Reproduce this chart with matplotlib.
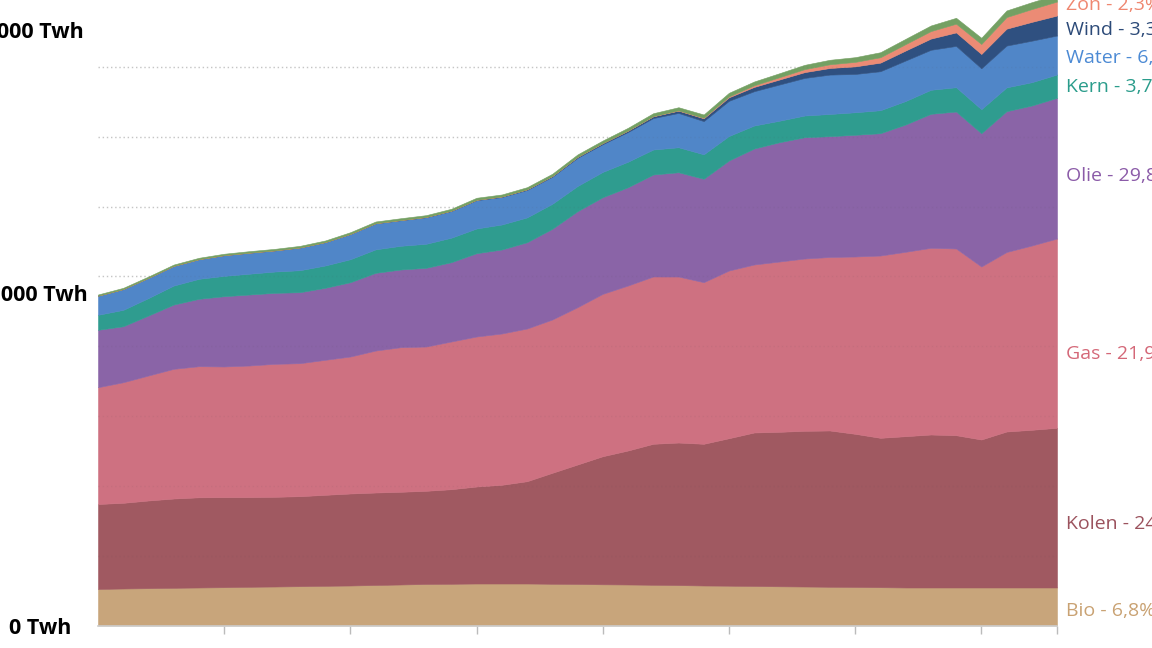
import numpy as np
import matplotlib.pyplot as plt

plt.rcParams['font.family'] = ['Open Sans', 'DejaVu Sans']

# wereld energieverbruik per bron, in TWh (1985-2023)
years = np.arange(1985, 2024)

bio = [10460, 10600, 10690, 10800, 10890, 10970, 11090, 11170, 11260, 11370,
       11460, 11600, 11750, 11890, 11950, 12030, 12030, 12030, 11950, 11890,
       11800, 11750, 11660, 11570, 11460, 11400, 11320, 11230, 11170, 11090,
       11030, 10970, 10890, 10890, 10890, 10890, 10890, 10890, 10890]
kolen = [24350, 24550, 25130, 25580, 25840, 25790, 25700, 25700, 25790, 26070,
         26360, 26500, 26560, 26700, 27100, 27790, 28280, 29310, 31800, 34240,
         36700, 38390, 40400, 40850, 40600, 42260, 43980, 44260, 44610, 44780,
         43890, 42800, 43350, 43830, 43630, 42400, 44690, 45180, 45750]
gas = [33460, 34550, 35810, 37160, 37560, 37450, 37700, 38100, 38100, 38680,
       39250, 40680, 41430, 41340, 42320, 42980, 43350, 43750, 43920, 45070,
       46530, 47270, 47930, 47560, 46300, 48050, 48130, 48790, 49360, 49710,
       50800, 52230, 52830, 53490, 53490, 49560, 51430, 52800, 54230]
olie = [16450, 16040, 17190, 18420, 19310, 20140, 20340, 20340, 20340, 20630,
        21290, 22260, 22260, 22550, 22720, 23870, 24070, 24720, 25990, 27500,
        27680, 28160, 29220, 29880, 29620, 31520, 33230, 34180, 34750, 34610,
        34870, 35040, 36470, 38390, 39250, 38190, 40340, 40110, 40310]
kern = [4300, 4700, 5010, 5440, 5730, 5820, 5960, 6100, 6300, 6390,
        6590, 6730, 6790, 6880, 7020, 7080, 7160, 7110, 7160, 7220,
        7250, 7310, 7160, 7160, 7020, 7020, 6590, 6160, 6220, 6360,
        6450, 6590, 6730, 6880, 6960, 6880, 6820, 6680, 6680]
water = [5470, 5960, 5790, 5640, 5620, 5930, 6020, 6050, 6500, 6680,
         7220, 7450, 7330, 7620, 7650, 8120, 7890, 7880, 7760, 8080,
         7950, 8510, 9010, 9830, 9510, 10080, 9830, 10370, 10770, 11290,
         10970, 11170, 11600, 11460, 11830, 11720, 11980, 11890, 11170]
wind = [0, 0, 0, 0, 0, 9, 11, 14, 17, 23,
        29, 37, 49, 63, 86, 100, 129, 172, 201, 258,
        315, 401, 516, 659, 802, 1003, 1232, 1433, 1662, 1891,
        2177, 2464, 2865, 3209, 3868, 4097, 4842, 5386, 5730]
zon = [1, 1, 1, 2, 2, 2, 2, 3, 3, 3,
       3, 4, 4, 5, 6, 6, 7, 9, 11, 14,
       14, 29, 43, 86, 143, 258, 458, 659, 860, 1060,
       1289, 1547, 1834, 2149, 2493, 2865, 3323, 3667, 4011]
overig = [344, 344, 372, 372, 401, 401, 430, 430, 458, 458,
          487, 487, 516, 516, 544, 573, 573, 602, 630, 688,
          716, 774, 831, 888, 945, 1031, 1089, 1146, 1232, 1289,
          1347, 1433, 1518, 1604, 1690, 1776, 1891, 1977, 2006]

colors = ['#c8a57b', '#a05961', '#ce7181', '#8a64a7', '#2f9c8f',
          '#5086c8', '#2f5080', '#eb8b75', '#74a063']

labels = ['Bio - 6,8%', 'Kolen - 24,7%', 'Gas - 21,9%', 'Olie - 29,8%',
          'Kern - 3,7%', 'Water - 6,4%', 'Wind - 3,3%', 'Zon - 2,3%']
label_colors = ['#c9a273', '#9b525d', '#d46878', '#8b5ba8',
                '#2a9c8b', '#4c8ad4', '#2c4a78', '#ef8770']
label_base = [615.7, 529, 359.3, 181, 92, 63, 35, 10]   # baseline in px

W, H = 1152, 648
fig = plt.figure(figsize=(W / 100, H / 100), dpi=100)
ax = fig.add_axes([98 / W, (H - 625.5) / H, (1057 - 98) / W, 625.5 / H])

grid_vals = np.arange(20000, 180000, 20000)
for g in grid_vals:
    ax.axhline(g, color='#cfcfcf', lw=1, linestyle=(0, (1, 2)), zorder=0)

polys = ax.stackplot(years, bio, kolen, gas, olie, kern, water, wind, zon, overig,
                     colors=colors, zorder=1)
for p, c in zip(polys, colors):
    p.set_edgecolor(c)
    p.set_linewidth(0.4)

for g in grid_vals:
    ax.axhline(g, color='#555555', lw=1, linestyle=(0, (1, 2)), alpha=0.08, zorder=2)

ax.set_xlim(1985, 2023)
ax.set_ylim(0, 625.5 * 286.5)
ax.set_yticks([])
ax.set_xticks([1990, 1995, 2000, 2005, 2010, 2015, 2020, 2023])
ax.set_xticklabels([])
ax.tick_params(axis='x', length=6, width=1, color='#bbbbbb', direction='out')
for s in ['top', 'right', 'left']:
    ax.spines[s].set_visible(False)
ax.spines['bottom'].set_color('#cccccc')
ax.spines['bottom'].set_linewidth(1.2)

for lab, col, yb in zip(labels, label_colors, label_base):
    fig.text(1066 / W, 1 - yb / H, lab, color=col, fontsize=14,
             ha='left', va='baseline')

fig.text(9 / W, 1 - 634 / H, '0 Twh', fontsize=15.5, fontweight='bold',
         ha='left', va='baseline')
fig.text(87.5 / W, 1 - 300.7 / H, '100.000 Twh', fontsize=15.5, fontweight='bold',
         ha='right', va='baseline')
fig.text(83.5 / W, 1 - 37.7 / H, '180.000 Twh', fontsize=15.5, fontweight='bold',
         ha='right', va='baseline')

fig.savefig('out.png', dpi=100)
